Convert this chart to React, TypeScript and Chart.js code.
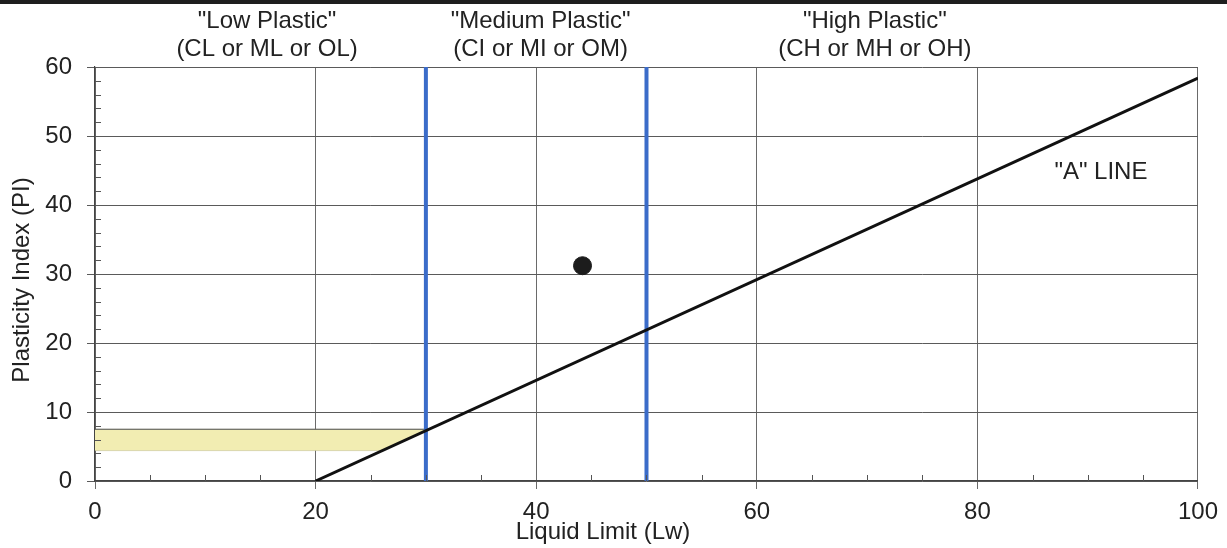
import React, { useEffect, useRef } from "react";
import { Chart, registerables } from "chart.js";

Chart.register(...registerables);

const aLineLL = [20, 100];
const aLinePI = [0, 58.4];
const boundaryLL = [30, 50];
const sampleLL = [44.2];
const samplePI = [31.2];
const bandLL = [0, 26.0, 30.3, 0];
const bandPI = [4.4, 4.4, 7.5, 7.5];
const bandEdgeLL = [0, 30.3];
const bandEdgePI = [7.5, 7.5];
const zoneLabels = [
  ['"Low Plastic"', "(CL or ML or OL)"],
  ['"Medium Plastic"', "(CI or MI or OM)"],
  ['"High Plastic"', "(CH or MH or OH)"],
];
const zoneLabelLL = [15.6, 40.4, 70.7];
const aLineLabel = '"A" LINE';
const aLineLabelPos = [91.2, 44.8];
const xTitle = "Liquid Limit (Lw)";
const yTitle = "Plasticity Index (PI)";

const FONT = '"Liberation Sans", Arial, sans-serif';
const TXT = "#222";
const FS = 24;

const extras = {
  id: "extras",
  afterDraw(chart: any) {
    const ctx = chart.ctx;
    const xs = chart.scales.x;
    const ys = chart.scales.y;
    const ca = chart.chartArea;
    ctx.save();
    // top dark bar
    ctx.fillStyle = "#1e1e1e";
    ctx.fillRect(0, 0, chart.width, 4);
    // minor inside ticks
    ctx.strokeStyle = "#555";
    ctx.lineWidth = 1;
    ctx.beginPath();
    xs.ticks.forEach((t: any) => {
      if (t.value % 20 !== 0) {
        const px = Math.round(xs.getPixelForValue(t.value)) + 0.5;
        ctx.moveTo(px, ca.bottom);
        ctx.lineTo(px, ca.bottom - 6);
      }
    });
    ys.ticks.forEach((t: any) => {
      if (t.value % 10 !== 0) {
        const py = Math.round(ys.getPixelForValue(t.value)) + 0.5;
        ctx.moveTo(ca.left, py);
        ctx.lineTo(ca.left + 6, py);
      }
    });
    ctx.stroke();
    // zone labels
    ctx.fillStyle = TXT;
    ctx.font = FS + "px " + FONT;
    ctx.textAlign = "center";
    ctx.textBaseline = "middle";
    zoneLabels.forEach((lines, i) => {
      const px = xs.getPixelForValue(zoneLabelLL[i]);
      ctx.fillText(lines[0], px, 21);
      ctx.fillText(lines[1], px, 49);
    });
    ctx.fillText(
      aLineLabel,
      xs.getPixelForValue(aLineLabelPos[0]),
      ys.getPixelForValue(aLineLabelPos[1])
    );
    // axis titles
    ctx.fillText(xTitle, 603, 532);
    ctx.translate(22, 280);
    ctx.rotate(-Math.PI / 2);
    ctx.fillText(yTitle, 0, 0);
    ctx.restore();
  },
};

export default function App() {
  const ref = useRef<HTMLCanvasElement>(null);
  useEffect(() => {
    if (!ref.current) return;
    Chart.defaults.font.family = FONT;
    const chart = new Chart(ref.current, {
      type: "scatter",
      data: {
        datasets: [
          {
            label: "Sample",
            data: sampleLL.map((x, i) => ({ x, y: samplePI[i] })),
            pointRadius: 9,
            pointBackgroundColor: "#1c1c1c",
            pointBorderColor: "#1c1c1c",
            order: 0,
          },
          {
            label: "A line",
            data: aLineLL.map((x, i) => ({ x, y: aLinePI[i] })),
            showLine: true,
            borderColor: "#111",
            borderWidth: 3,
            pointRadius: 0,
            order: 1,
          },
          ...boundaryLL.map((ll, k) => ({
            label: "Boundary " + k,
            data: [
              { x: ll, y: 0 },
              { x: ll, y: 60 },
            ],
            showLine: true,
            borderColor: "#3b6cc9",
            borderWidth: 4,
            pointRadius: 0,
            order: 2,
          })),
          {
            label: "Band edge",
            data: bandEdgeLL.map((x, i) => ({ x, y: bandEdgePI[i] })),
            showLine: true,
            borderColor: "#555",
            borderWidth: 1.2,
            pointRadius: 0,
            order: 3,
          },
          {
            label: "Band",
            data: bandLL.map((x, i) => ({ x, y: bandPI[i] })),
            showLine: true,
            fill: "shape",
            backgroundColor: "#f2edb2",
            borderColor: "rgba(150,150,120,0.4)",
            borderWidth: 0.8,
            pointRadius: 0,
            order: 4,
          } as any,
        ],
      },
      options: {
        animation: false,
        responsive: true,
        maintainAspectRatio: false,
        layout: { padding: { left: 0, top: 67, right: 28, bottom: 0 } },
        plugins: {
          legend: { display: false },
          tooltip: { enabled: false },
        },
        scales: {
          x: {
            type: "linear",
            min: 0,
            max: 100,
            afterFit: (s: any) => {
              s.height = 67;
            },
            ticks: {
              stepSize: 5,
              autoSkip: false,
              maxRotation: 0,
              color: TXT,
              font: { size: FS, family: FONT },
              padding: 9,
              callback: (v: any) => (v % 20 === 0 ? String(v) : ""),
            },
            grid: {
              color: (c: any) =>
                c.tick && c.tick.value % 20 === 0 ? "#6a6a6a" : "rgba(0,0,0,0)",
              lineWidth: 1,
              tickLength: 8,
            },
            border: { color: "#444", width: 1.2 },
            title: { display: false },
          },
          y: {
            type: "linear",
            min: 0,
            max: 60,
            afterFit: (s: any) => {
              s.width = 95;
            },
            ticks: {
              stepSize: 2,
              autoSkip: false,
              color: TXT,
              font: { size: FS, family: FONT },
              padding: 15,
              callback: (v: any) => (v % 10 === 0 ? String(v) : ""),
            },
            grid: {
              color: (c: any) =>
                c.tick && c.tick.value % 10 === 0 ? "#5a5a5a" : "rgba(0,0,0,0)",
              lineWidth: 1,
              tickLength: 8,
            },
            border: { color: "#444", width: 1.2 },
            title: { display: false },
          },
        },
      },
      plugins: [extras],
    });
    return () => chart.destroy();
  }, []);
  return (
    <div
      style={{
        position: "absolute",
        left: 0,
        top: 0,
        width: 1227,
        height: 548,
        background: "#fff",
      }}
    >
      <canvas ref={ref} />
    </div>
  );
}
